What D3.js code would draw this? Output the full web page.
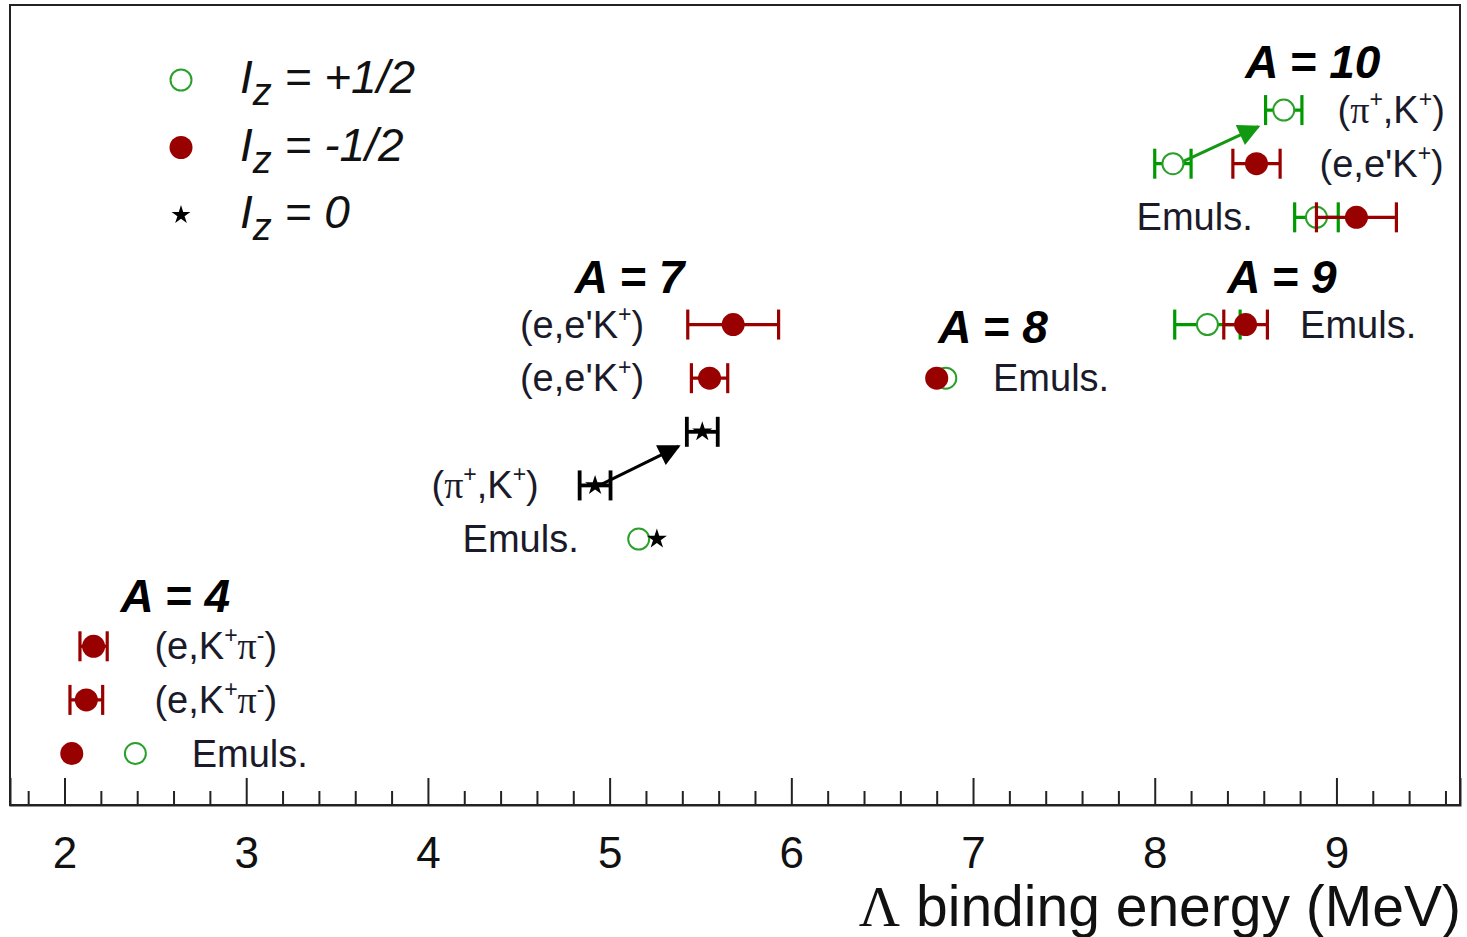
<!DOCTYPE html>
<html>
<head>
<meta charset="utf-8">
<script src="https://cdn.jsdelivr.net/npm/d3@7"></script>
<style>
  html, body { margin: 0; padding: 0; background: #fff; }
  svg { display: block; font-family: "Liberation Sans", Arial, sans-serif; }
</style>
</head>
<body>
<div id="chart"></div>
<script>
// ── Data (Λ binding energies, MeV; row = vertical slot in the plot) ─────
const PLUS_HALF = [            // Iz = +1/2, open green circles
  { row: 1,  be: 2.39, err: 0 },
  { row: 5,  be: 5.16, err: 0 },
  { row: 8,  be: 6.85, err: 0 },
  { row: 9,  be: 8.29, err: 0.18 },
  { row: 13, be: 8.71, err: 0.10 },
  { row: 12, be: 8.10, err: 0.10 },
  { row: 11, be: 8.89, err: 0.12 }
];
const MINUS_HALF = [           // Iz = -1/2, filled red circles
  { row: 3,  be: 2.16, err: 0.075 },
  { row: 2,  be: 2.12, err: 0.09 },
  { row: 1,  be: 2.04, err: 0 },
  { row: 9,  be: 5.68, err: 0.25 },
  { row: 8,  be: 5.55, err: 0.10 },
  { row: 8,  be: 6.80, err: 0 },
  { row: 9,  be: 8.50, err: 0.12 },
  { row: 12, be: 8.56, err: 0.13 },
  { row: 11, be: 9.11, err: 0.22 }
];
const ZERO = [                 // Iz = 0, black stars
  { row: 7, be: 5.51, err: 0.085 },
  { row: 6, be: 4.92, err: 0.085 },
  { row: 5, be: 5.26, err: 0 }
];

const HEADERS = [
  { text: "A = 4",  be: 2.61, row: 3.64 },
  { text: "A = 7",  be: 5.11, row: 9.59 },
  { text: "A = 8",  be: 7.11, row: 8.66 },
  { text: "A = 9",  be: 8.70, row: 9.59 },
  { text: "A = 10", be: 8.87, row: 13.6 }
];

// reaction labels: kind -> rendered text
const LABELS = [
  { kind: "eKpi",  be: 2.495, row: 3,  anchor: "start" },
  { kind: "eKpi",  be: 2.495, row: 2,  anchor: "start" },
  { kind: "emuls", be: 2.70,  row: 1,  anchor: "start" },
  { kind: "eeK",   be: 5.19,  row: 9,  anchor: "end" },
  { kind: "eeK",   be: 5.19,  row: 8,  anchor: "end" },
  { kind: "piK",   be: 4.61,  row: 6,  anchor: "end" },
  { kind: "emuls", be: 4.83,  row: 5,  anchor: "end" },
  { kind: "emuls", be: 7.11,  row: 8,  anchor: "start" },
  { kind: "emuls", be: 8.80,  row: 9,  anchor: "start" },
  { kind: "piK",   be: 9.006, row: 13, anchor: "start" },
  { kind: "eeK",   be: 8.907, row: 12, anchor: "start" },
  { kind: "emuls", be: 7.90,  row: 11, anchor: "start" }
];

const ARROWS = [
  { from: [4.96, 6.03],  to: [5.38, 6.73],  color: "#000" },
  { from: [8.16, 12.05], to: [8.57, 12.69], color: "#119911" }
];

const MAJOR_TICKS = [2, 3, 4, 5, 6, 7, 8, 9];
const LEGEND = [
  { value: "+1/2", kind: "plus" },
  { value: "-1/2", kind: "minus" },
  { value: "0",    kind: "zero" }
];

// ── Layout ──────────────────────────────────────────────────────────────
const margin = { top: 5, right: 7, bottom: 132, left: 10 };
const W = 1467, H = 937;
const width = W - margin.left - margin.right;
const height = H - margin.top - margin.bottom;

const GREEN_BAR = "#009900", GREEN_DOT = "#2aa02a", RED = "#990000";

const svg = d3.select("#chart").append("svg")
  .attr("width", W).attr("height", H);

const g = svg.append("g")
  .attr("transform", `translate(${margin.left},${margin.top})`);

const x = d3.scaleLinear().domain([1.70, 9.68]).range([0, width]);
const y = d3.scaleLinear().domain([0.04, 14.96]).range([height, 0]);

// ── Frame + axis ────────────────────────────────────────────────────────
g.append("rect")
  .attr("width", width).attr("height", height)
  .attr("fill", "none").attr("stroke", "#222").attr("stroke-width", 2);

const minor = x.ticks(40).filter(t => Math.abs(t - Math.round(t)) > 1e-6);
g.append("g")
  .attr("transform", `translate(0,${height})`)
  .call(d3.axisBottom(x).tickValues(minor).tickSize(-14).tickFormat(""))
  .call(a => a.select(".domain").remove())
  .selectAll("line").attr("stroke", "#222").attr("stroke-width", 2);

const ax = g.append("g")
  .attr("transform", `translate(0,${height})`)
  .call(d3.axisBottom(x).tickValues(MAJOR_TICKS).tickSize(-27).tickPadding(32).tickFormat(d3.format("d")));
ax.select(".domain").attr("stroke", "#222").attr("stroke-width", 2);
ax.selectAll("line").attr("stroke", "#222").attr("stroke-width", 2);
ax.selectAll("text")
  .attr("fill", "#111")
  .style("font-family", "'Liberation Sans', Arial, sans-serif")
  .style("font-size", "44px");

const title = svg.append("text")
  .attr("x", margin.left + width + 1)
  .attr("y", 926)
  .attr("text-anchor", "end")
  .attr("fill", "#111")
  .style("font-size", "57px");
title.append("tspan").style("font-family", "'Liberation Serif', serif").text("Λ");
title.append("tspan").text(" binding energy (MeV)");

// ── Error bars ──────────────────────────────────────────────────────────
function errorBars(data, color, sw) {
  const eg = g.append("g").attr("stroke", color).attr("stroke-width", sw).attr("fill", "none");
  const withErr = data.filter(d => d.err > 0);
  eg.selectAll(".h").data(withErr).join("line")
    .attr("x1", d => x(d.be - d.err)).attr("x2", d => x(d.be + d.err))
    .attr("y1", d => y(d.row)).attr("y2", d => y(d.row));
  eg.selectAll(".cl").data(withErr).join("line").attr("class", "cl")
    .attr("x1", d => x(d.be - d.err)).attr("x2", d => x(d.be - d.err))
    .attr("y1", d => y(d.row) - 15).attr("y2", d => y(d.row) + 15);
  eg.selectAll(".cr").data(withErr).join("line").attr("class", "cr")
    .attr("x1", d => x(d.be + d.err)).attr("x2", d => x(d.be + d.err))
    .attr("y1", d => y(d.row) - 15).attr("y2", d => y(d.row) + 15);
}

errorBars(PLUS_HALF, GREEN_BAR, 3.2);
g.append("g").selectAll("circle").data(PLUS_HALF).join("circle")
  .attr("cx", d => x(d.be)).attr("cy", d => y(d.row)).attr("r", 10.5)
  .attr("fill", "#fff").attr("stroke", GREEN_DOT).attr("stroke-width", 2);

errorBars(MINUS_HALF, RED, 3.2);
g.append("g").selectAll("circle").data(MINUS_HALF).join("circle")
  .attr("cx", d => x(d.be)).attr("cy", d => y(d.row)).attr("r", 11.5)
  .attr("fill", RED);

errorBars(ZERO, "#000", 3.8);
const star = d3.symbol().type(d3.symbolStar).size(125);
g.append("g").selectAll("path").data(ZERO).join("path")
  .attr("transform", d => `translate(${x(d.be)},${y(d.row)})`)
  .attr("d", star).attr("fill", "#000");

// ── Arrows ──────────────────────────────────────────────────────────────
const defs = svg.append("defs");
ARROWS.forEach((a, i) => {
  defs.append("marker")
    .attr("id", "arr" + i)
    .attr("viewBox", "0 0 10 10").attr("refX", 9).attr("refY", 5)
    .attr("markerUnits", "userSpaceOnUse")
    .attr("markerWidth", 26).attr("markerHeight", 22)
    .attr("orient", "auto")
    .append("path").attr("d", "M0,0 L10,5 L0,10 Z").attr("fill", a.color);
  g.append("line")
    .attr("x1", x(a.from[0])).attr("y1", y(a.from[1]))
    .attr("x2", x(a.to[0])).attr("y2", y(a.to[1]))
    .attr("stroke", a.color).attr("stroke-width", 3)
    .attr("marker-end", `url(#arr${i})`);
});

// ── Headers ─────────────────────────────────────────────────────────────
g.append("g").selectAll("text").data(HEADERS).join("text")
  .attr("x", d => x(d.be)).attr("y", d => y(d.row))
  .attr("text-anchor", "middle")
  .attr("fill", "#000")
  .style("font-size", "46px").style("font-weight", "bold").style("font-style", "italic")
  .text(d => d.text);

// ── Reaction labels ─────────────────────────────────────────────────────
const LBL_COLOR = "#1a1a2a";
const PARTS = {
  emuls: [["Emuls."]],
  eKpi:  [["(e,K"], ["+", "sup"], ["π", "pi"], ["-", "sup"], [")"]],
  eeK:   [["(e,e'K"], ["+", "sup"], [")"]],
  piK:   [["("], ["π", "pi"], ["+", "sup"], [",K"], ["+", "sup"], [")"]]
};
const SUP_SHIFT = 16;
LABELS.forEach(l => {
  const t = g.append("text")
    .attr("x", x(l.be)).attr("y", y(l.row) + 13)
    .attr("text-anchor", l.anchor)
    .attr("fill", LBL_COLOR)
    .style("font-size", "38px");
  let raised = false;
  PARTS[l.kind].forEach(([s, k]) => {
    const sp = t.append("tspan").text(s);
    if (k === "sup") {
      sp.attr("dy", raised ? 0 : -SUP_SHIFT).style("font-size", "23px");
      raised = true;
    } else {
      if (raised) sp.attr("dy", SUP_SHIFT);
      raised = false;
      if (k === "pi") sp.style("font-family", "'Liberation Serif', serif");
    }
  });
});

// ── Legend ──────────────────────────────────────────────────────────────
const legend = svg.append("g").attr("transform", "translate(181,80)");
LEGEND.forEach((d, i) => {
  const row = legend.append("g").attr("transform", `translate(0,${i * 67.5})`);
  if (d.kind === "plus") {
    row.append("circle").attr("r", 10.5).attr("fill", "#fff")
      .attr("stroke", GREEN_DOT).attr("stroke-width", 2);
  } else if (d.kind === "minus") {
    row.append("circle").attr("r", 11.5).attr("fill", RED);
  } else {
    row.append("path").attr("d", d3.symbol().type(d3.symbolStar).size(110)).attr("fill", "#000");
  }
  const t = row.append("text")
    .attr("x", 59).attr("y", 13)
    .attr("fill", "#111")
    .style("font-size", "46px").style("font-style", "italic");
  t.append("tspan").text("I");
  t.append("tspan").attr("dy", 12).style("font-size", "38px").text("z");
  t.append("tspan").attr("dy", -12).text(" = " + d.value);
});
</script>
</body>
</html>
